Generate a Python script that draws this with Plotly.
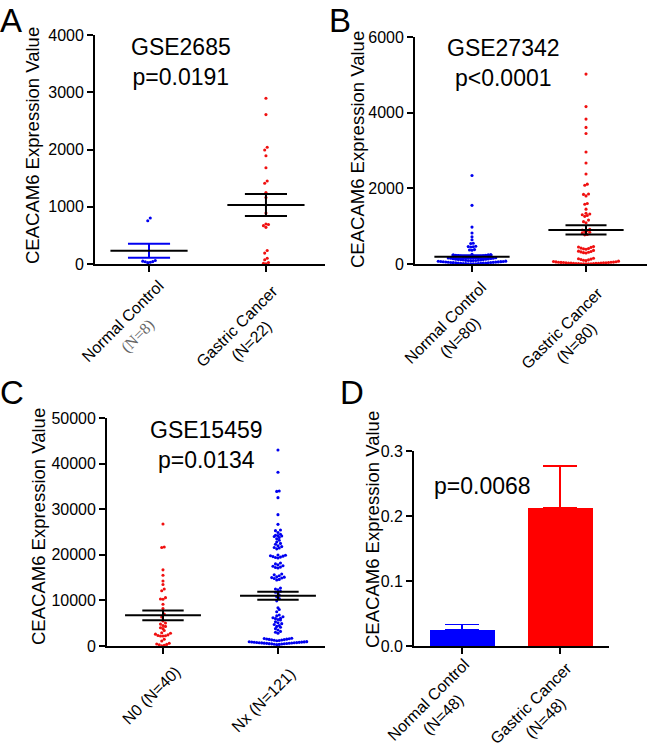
import numpy as np
import plotly.graph_objects as go

W, H = 650, 746

# ---------------- data ----------------
A_labels = ["Normal Control<br><span style='font-family:Liberation Serif;color:#666666'>(N=8)</span>",
            "Gastric Cancer<br>(N=22)"]
A_normal = [803, 756, 62, 38, 24, 30, 42, 50]
A_cancer = [2895, 2610, 2040, 1990, 1890, 1680, 1450, 1410, 1250, 1160, 890,
            700, 690, 670, 640, 235, 190, 100, 75, 25, 12, 5]
A_mean = [230, 1030]
A_sem = [122, 192]

B_labels = ["Normal Control<br>(N=80)", "Gastric Cancer<br>(N=80)"]
B_normal = [2340, 1550, 975, 820, 720, 640, 550, 540, 470, 460, 455, 450, 380, 370, 365,
            255, 250, 245, 240, 232, 228, 222, 218, 212, 206, 200, 195, 190, 186, 182,
            178, 172, 166, 160, 155, 150, 145, 140, 135,
            128, 124, 120, 116, 112, 108, 104, 100, 97, 94, 92, 90, 88,
            75, 72, 68, 65, 62, 58, 55, 52, 50, 47, 44, 41, 38, 36, 33, 30, 27, 25,
            22, 20, 18, 15, 12, 10, 8, 6, 4, 2]
B_cancer = [5020, 4160, 3830, 3610, 3450, 2960, 2670, 2380, 2110, 2080, 1850, 1840, 1800,
            1600, 1580, 1450, 1340, 1320, 1300, 1280, 1260, 1160, 1120, 1090, 920, 900,
            880, 860, 840, 820, 780, 770, 460, 450, 440, 420, 410, 400, 390, 360, 340,
            330, 320, 310, 300, 290, 150, 140, 130, 120, 110, 100, 90, 75, 65, 60, 55,
            50, 48, 45, 42, 40, 38, 35, 32, 30, 28, 25, 22, 20, 18, 16, 14, 12, 10, 8,
            6, 5, 3, 2]
B_mean = [190, 900]
B_sem = [40, 123]

C_labels = ["N0 (N=40)", "Nx (N=121)"]
C_n0 = [26750, 21700, 21600, 16700, 15500, 14250, 13500, 12500, 12100, 10600, 10300,
        10250, 9150, 8200, 7000, 6350, 5500, 5040, 4800, 4500, 4300, 4000, 3800, 3400,
        2900, 2780, 2600, 2450, 2300, 2250, 2200, 2190, 1470, 1100,
        590, 450, 350, 250, 150, 20]
C_nx = [42980, 38090, 34000, 33900, 32530, 28800, 26680,
        25440, 25300, 24900, 24500, 24300, 24200, 24120, 24000, 23800,
        23500, 23200, 22800, 22500, 22300, 22000, 21800, 21600, 21500, 21300,
        19960, 19900, 19800, 19700, 19600, 19500, 19400, 19300,
        18200, 18000, 17800, 17600, 17500, 17300, 17200, 17100,
        15800, 15600, 15400, 15200, 15100, 15000, 14900, 14800, 14600, 14500,
        12700, 12500, 12300, 12000, 11800,
        11600, 11200, 10800, 10400, 9900,
        8400, 8000, 7500,
        6800, 6600, 6400, 6200, 6100, 6000, 5800, 5700,
        5300, 5100, 4900, 4700, 4500, 4300, 4100, 3800, 3500, 3200, 3000, 2800,
        1700, 1650, 1600, 1550, 1500, 1450, 1400, 1350, 1300, 1250, 1200, 1160,
        950, 920, 900, 870, 850, 820, 800, 780, 750, 720, 700, 680, 650, 620, 600,
        580, 550, 520, 500, 470, 440, 400, 350, 300]
C_mean = [6730, 11030]
C_sem = [1070, 880]

D_labels = ["Normal Control<br>(N=48)", "Gastric Cancer<br>(N=48)"]
D_values = [0.025, 0.213]
D_err = [0.008, 0.064]

titles = {"A": "GSE2685<br>p=0.0191", "B": "GSE27342<br>p<0.0001",
          "C": "GSE15459<br>p=0.0134", "D": "p=0.0068"}
y_title = "CEACAM6 Expression Value"

BLUE = "#0000f0"
RED = "#f01010"
BAR_BLUE = "#0000ff"
BAR_RED = "#ff0000"
FONT = "Arial, Liberation Sans, sans-serif"

# ---------------- layout geometry (pixels) ----------------
panels = {
    "A": dict(x0=95, x1=325, y0=264, y1=35, yrange=[0, 4000], dtick=1000, xr=[-0.462, 1.505]),
    "B": dict(x0=415, x1=647, y0=264, y1=37, yrange=[0, 6000], dtick=2000, xr=[-0.50, 1.535]),
    "C": dict(x0=107, x1=325, y0=646, y1=418, yrange=[0, 50000], dtick=10000, xr=[-0.487, 1.409]),
    "D": dict(x0=414, x1=609, y0=646, y1=451, yrange=[0, 0.3], dtick=0.1, xr=[-0.49, 1.50]),
}
axis_ids = {"A": ("x", "y"), "B": ("x2", "y2"), "C": ("x3", "y3"), "D": ("x4", "y4")}
# centres (px) of the rotated category labels
label_pos = {"A": [(131, 329), (244, 334)], "B": [(453, 330), (569, 336)],
             "C": [(151, 695), (263, 700)], "D": [(436, 707), (538, 711)]}
title_pos = {"A": (181, 62), "B": (504, 63), "C": (206, 445), "D": (482, 486)}
letter_pos = {"A": (11, 0), "B": (340, 0), "C": (12, 372), "D": (352, 372)}
ytitle_pos = {"A": (32, 146), "B": (357, 150), "C": (38, 527), "D": (372, 530)}


def swarm_offsets(values, p, binh=3.0, spacing=2.5):
    """GraphPad-like dot plot: values grouped in rows (greedy, binh px tall),
    each row spread symmetrically with `spacing` px between dots."""
    xppu = (p["x1"] - p["x0"]) / (p["xr"][1] - p["xr"][0])
    yppu = (p["y0"] - p["y1"]) / (p["yrange"][1] - p["yrange"][0])
    vals = np.asarray(values, float)
    order = list(np.argsort(vals))
    offs = np.zeros(len(vals))
    rows, cur, start = [], [], None
    for i in order:
        ypx = vals[i] * yppu
        if start is None or ypx - start > binh:
            if cur:
                rows.append(cur)
            cur, start = [i], ypx
        else:
            cur.append(i)
    if cur:
        rows.append(cur)
    for row in rows:
        n = len(row)
        slots = sorted(((k - (n - 1) / 2) for k in range(n)), key=lambda s: (abs(s), s))
        for i, s in zip(row, slots):
            offs[i] = s * spacing / xppu
    return offs


fig = go.Figure()


def add_dots(panel, idx, values, color):
    p = panels[panel]
    xa, ya = axis_ids[panel]
    off = swarm_offsets(values, p)
    fig.add_trace(go.Scatter(x=idx + off, y=values, mode="markers", xaxis=xa, yaxis=ya,
                             marker=dict(size=3.1, color=color, line=dict(width=0)),
                             cliponaxis=False, showlegend=False, hoverinfo="y"))


def add_meansem(panel, idx, mean, sem, semcolor, meancolor="black", mw=0.33, sw=0.18):
    xa, ya = axis_ids[panel]
    fig.add_trace(go.Scatter(
        x=[idx - sw, idx + sw, None, idx - sw, idx + sw, None, idx, idx],
        y=[mean + sem, mean + sem, None, mean - sem, mean - sem, None, mean - sem, mean + sem],
        mode="lines", xaxis=xa, yaxis=ya, line=dict(color=semcolor, width=2),
        showlegend=False, hoverinfo="skip"))
    fig.add_trace(go.Scatter(x=[idx - mw, idx + mw], y=[mean, mean], mode="lines",
                             xaxis=xa, yaxis=ya, line=dict(color=meancolor, width=2),
                             showlegend=False, hoverinfo="skip"))


# Panel A
add_dots("A", 0, A_normal, BLUE)
add_dots("A", 1, A_cancer, RED)
add_meansem("A", 0, A_mean[0], A_sem[0], BLUE)
add_meansem("A", 1, A_mean[1], A_sem[1], "black")
# Panel B
add_dots("B", 0, B_normal, BLUE)
add_dots("B", 1, B_cancer, RED)
add_meansem("B", 0, B_mean[0], B_sem[0], BLUE)
add_meansem("B", 1, B_mean[1], B_sem[1], "black")
# Panel C
add_dots("C", 0, C_n0, RED)
add_dots("C", 1, C_nx, BLUE)
add_meansem("C", 0, C_mean[0], C_sem[0], "black")
add_meansem("C", 1, C_mean[1], C_sem[1], "black")
# Panel D
pD = panels["D"]
bar_w = 65 / ((pD["x1"] - pD["x0"]) / (pD["xr"][1] - pD["xr"][0]))
for i, col in enumerate([BAR_BLUE, BAR_RED]):
    fig.add_trace(go.Bar(x=[i], y=[D_values[i]], width=bar_w, xaxis="x4", yaxis="y4",
                         marker=dict(color=col, line=dict(width=0)), showlegend=False,
                         error_y=dict(type="data", array=[D_err[i]], arrayminus=[0],
                                      symmetric=False, color=col, thickness=1.5, width=17)))

labels = {"A": A_labels, "B": B_labels, "C": C_labels, "D": D_labels}
layout = {}
for k, p in panels.items():
    xa, ya = axis_ids[k]
    xkey = "xaxis" + xa[1:]
    ykey = "yaxis" + ya[1:]
    common = dict(showline=True, linecolor="black", linewidth=1.8, ticks="outside",
                  ticklen=6, tickwidth=1.8, tickcolor="black", showgrid=False,
                  zeroline=False, tickfont=dict(family=FONT, size=16, color="black"),
                  fixedrange=True, automargin=False)
    layout[xkey] = dict(common, domain=[p["x0"] / W, p["x1"] / W], range=p["xr"],
                        tickmode="array", tickvals=[0, 1], showticklabels=False, anchor=ya)
    yk = dict(common, domain=[1 - p["y0"] / H, 1 - p["y1"] / H], range=p["yrange"],
              tickmode="linear", tick0=0, dtick=p["dtick"], anchor=xa, tickformat="d")
    if k == "D":
        yk["tickformat"] = ".1f"
    layout[ykey] = yk


def ann(text, x, y, size, angle=0, align="center", yanchor="middle"):
    return dict(text=text, x=x / W, y=1 - y / H, xref="paper", yref="paper",
                xanchor="center", yanchor=yanchor, showarrow=False, textangle=angle,
                align=align, font=dict(family=FONT, size=size, color="black"))


annotations = []
for k in panels:
    annotations.append(ann(k, *letter_pos[k], 33, yanchor="top"))
    annotations.append(ann(titles[k], *title_pos[k], 23))
    annotations.append(ann(y_title, *ytitle_pos[k], 18.5, -90))
    for lab, pos in zip(labels[k], label_pos[k]):
        annotations.append(ann(lab, *pos, 16, -45))

fig.update_layout(template="none", width=W, height=H, margin=dict(l=0, r=0, t=0, b=0),
                  paper_bgcolor="white", plot_bgcolor="white", bargap=0,
                  annotations=annotations, **layout)
fig.write_html("out.html", config={"displayModeBar": False},
               post_script="document.body.style.margin='0';document.body.style.overflow='hidden';")
